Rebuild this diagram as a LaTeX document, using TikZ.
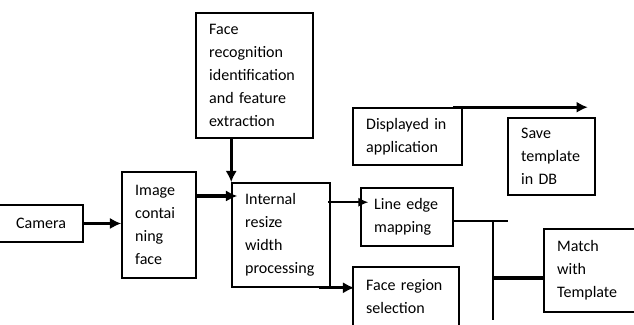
\documentclass[tikz,border=0pt]{standalone}
\usepackage{fontspec}
\setmainfont{Carlito}
\usetikzlibrary{arrows.meta, calc}

\begin{document}
\begin{tikzpicture}[line width=1.1pt,
  box/.style={draw, line width=1.1pt, align=left, inner xsep=0.33cm, inner ysep=0pt,
              font=\fontsize{11.4}{16.3}\selectfont},
  bold/.style={line width=2.4pt, -{Latex[length=8pt,width=8pt]}},
  fine/.style={line width=1.1pt, -{Latex[length=7pt,width=6.5pt]}}]
  \useasboundingbox (0,0) rectangle (15.85,8.125);

  % Input side
  \node[box, align=center, text width=1.44cm, minimum height=0.925cm]
    (cam) at (1.025, 2.5375) {Camera};
  \node[box, text width=1.19cm, minimum height=2.65cm]
    (img) at (3.975, 2.5) {Image\\contai\\ning\\face};
  \node[box, text width=2.265cm, minimum height=3.125cm]
    (face) at (6.3625, 6.2375) {Face\\recognition\\identification\\and feature\\extraction};
  \node[box, text width=1.79cm, minimum height=2.6cm]
    (int) at (7.025, 2.25) {Internal\\resize\\width\\processing};

  % Processing side
  \node[box, text width=1.64cm, minimum height=1.45cm]
    (le) at (10.175, 2.7) {Line edge\\mapping};
  \node[box, text width=1.99cm, minimum height=1.5cm]
    (fr) at (10.15, 0.7) {Face region\\selection};
  \node[box, text width=2.065cm, minimum height=1.425cm]
    (disp) at (10.1875, 4.7125) {Displayed in\\application};
  \node[box, text width=1.515cm, minimum height=1.925cm]
    (save) at (13.7875, 4.2125) {Save\\template\\in DB};
  \node[box, text width=1.64cm, minimum height=2.075cm]
    (match) at (14.75, 1.3625) {Match\\with\\Template};

  % Connectors
  \coordinate (p1) at ($(img.east)+(0,0.725)$);
  \coordinate (p2) at ($(int.north east)+(-0.075,-0.5)$);
  \coordinate (p3) at ($(int.south east)+(-0.3,0)$);
  \coordinate (p4) at ($(disp.north east)+(-0.25,0)$);
  \draw[bold] (cam.east) -- (cam.east -| img.west);
  \draw[bold] (p1) -- ($(p1 -| int.west)+(0.15,0)$);
  \draw[bold] (int.north west |- face.south) -- (int.north west);
  \draw[fine] (p2) -- ($(p2 -| le.west)+(0.2,0)$);
  \draw[bold] (p3) -- ($(p3 -| fr.west)+(0.05,0)$);
  \draw[bold] (p4) -- ($(p4 -| save.east)+(-0.2,0)$);

  % Bus to matching
  \coordinate (bustop) at (12.325, 2.6);
  \coordinate (busmid) at (12.325, 1.175);
  \coordinate (busbot) at (12.325, 0.125);
  \draw (le.east |- bustop) -- ++(1.35,0);
  \draw (bustop) -- (busbot);
  \draw[line width=2.4pt] (busmid) -- (busmid -| match.west);
\end{tikzpicture}
\end{document}
